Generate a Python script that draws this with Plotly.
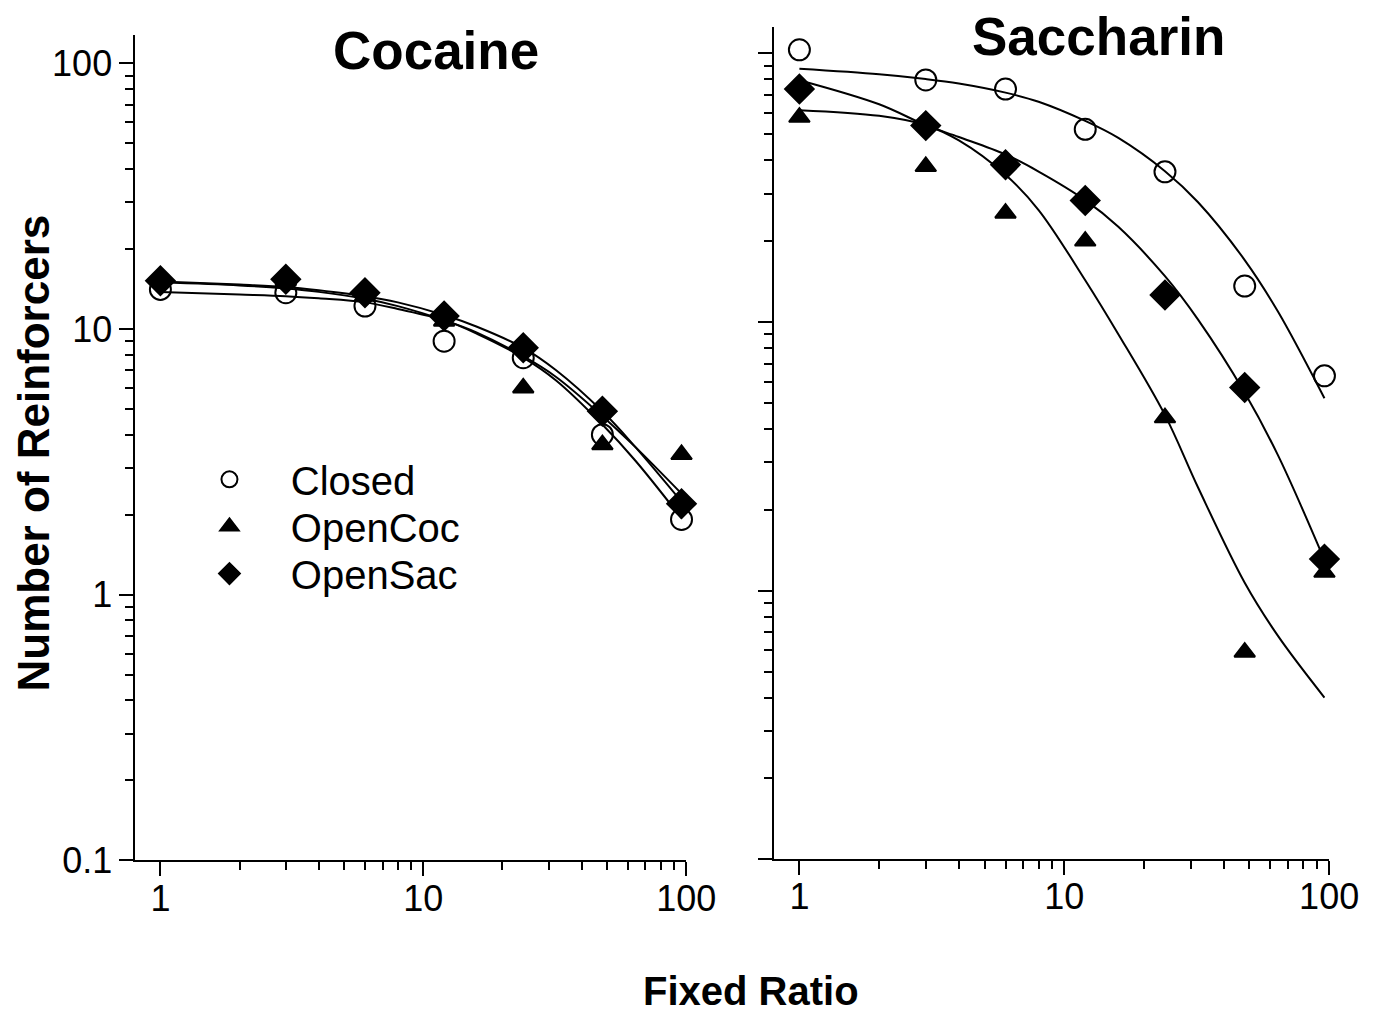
import plotly.graph_objects as go

# ---------------- data ----------------
fr = [1, 3, 6, 12, 24, 48, 96]

coc_closed = [14.1, 13.7, 12.2, 9.0, 7.8, 4.0, 1.92]
coc_opencoc = [15.8, 15.2, 13.3, 10.7, 6.0, 3.67, 3.37]
coc_opensac = [15.2, 15.4, 13.7, 11.2, 8.5, 4.9, 2.2]

sac_closed = [103, 79.6, 73.6, 52.1, 36.2, 13.6, 6.3]
sac_opencoc = [57.8, 37.9, 25.4, 20.0, 4.4, 0.59, 1.17]
sac_opensac = [73.6, 53.8, 38.5, 28.3, 12.6, 5.7, 1.31]

fit_fr = [1, 2, 3, 4, 6, 8, 12, 16, 24, 32, 48, 64, 96]
coc_fit_closed = [13.8, 13.5, 13.3, 13.05, 12.6, 11.9, 10.8, 9.6, 7.8, 6.4, 4.37, 3.2, 1.94]
coc_fit_opencoc = [15.0, 14.6, 14.2, 13.8, 13.0, 12.2, 10.8, 9.7, 7.9, 6.6, 4.7, 3.6, 2.4]
coc_fit_opensac = [15.1, 14.7, 14.4, 14.0, 13.3, 12.6, 11.3, 10.2, 8.5, 7.0, 4.9, 3.6, 2.24]

sac_fit_closed = [87.5, 83.5, 80.2, 77.2, 71.4, 66.0, 56.0, 48.4, 36.4, 27.9, 17.0, 10.96, 5.2]
sac_fit_opencoc = [61.4, 58.5, 54, 47.4, 35.3, 26.1, 14.3, 9.0, 4.5, 2.42, 1.07, 0.68, 0.40]
sac_fit_opensac = [79.4, 64.6, 54, 48.8, 42, 36.3, 28.4, 22.6, 14.8, 10.2, 5.45, 3.2, 1.30]

series_names = ["Closed", "OpenCoc", "OpenSac"]
x_tickvals = [1, 10, 100]
x_ticktext = ["1", "10", "100"]
y_tickvals = [0.1, 1, 10, 100]
y_ticktext = ["0.1", "1", "10", "100"]
x_minor = [2, 3, 4, 5, 6, 7, 8, 9, 20, 30, 40, 50, 60, 70, 80, 90]
y_minor = [0.2, 0.3, 0.4, 0.5, 0.6, 0.7, 0.8, 0.9, 2, 3, 4, 5, 6, 7, 8, 9,
           20, 30, 40, 50, 60, 70, 80, 90]

# ---------------- layout helpers ----------------
S = 0.977          # page -> picture scale observed
OFF = 8            # body margin
W, H = 1392, 1021


def f(v):
    return v / S - OFF


def px(x):
    return f(x) / W


def py(y):
    return 1 - f(y) / H


TICKFONT = "Liberation Sans, Arial, Helvetica, sans-serif"
BOLD = "Liberation Sans, Arial, Helvetica, sans-serif"
symbols = {
    "Closed": dict(symbol="circle-open", size=21, color="black", line=dict(width=2, color="black")),
    "OpenCoc": dict(symbol="triangle-up", size=18, color="black", line=dict(width=2, color="black")),
    "OpenSac": dict(symbol="diamond", size=22, color="black", line=dict(width=2, color="black")),
}
legend_ids = {"Closed": "legend", "OpenCoc": "legend2", "OpenSac": "legend3"}

fig = go.Figure()

panels = [
    ("x", "y", [coc_closed, coc_opencoc, coc_opensac],
     [coc_fit_closed, coc_fit_opencoc, coc_fit_opensac], True),
    ("x2", "y2", [sac_closed, sac_opencoc, sac_opensac],
     [sac_fit_closed, sac_fit_opencoc, sac_fit_opensac], False),
]

for xa, ya, pts, fits, show in panels:
    for fit in fits:
        fig.add_trace(go.Scatter(
            x=fit_fr, y=fit, mode="lines", xaxis=xa, yaxis=ya,
            line=dict(color="black", width=2, shape="spline", smoothing=1.0),
            showlegend=False, hoverinfo="skip", cliponaxis=False))
    for name, vals in zip(series_names, pts):
        fig.add_trace(go.Scatter(
            x=fr, y=vals, mode="markers", xaxis=xa, yaxis=ya,
            name="\u00a0\u00a0\u00a0\u2009" + name,
            marker=symbols[name], showlegend=show,
            legend=legend_ids[name], cliponaxis=False))


def axis_common():
    return dict(
        type="log", showline=True, linecolor="black", linewidth=2,
        ticks="outside", ticklen=14, tickwidth=2, tickcolor="black",
        showgrid=False, zeroline=False,
        tickfont=dict(family=TICKFONT, size=36, color="black"),
        minor=dict(ticks="outside", ticklen=8, tickwidth=2, tickcolor="black",
                   tickmode="array", showgrid=False),
    )


xa1 = axis_common()
xa1.update(domain=[px(135), px(685)], range=[-0.0952, 2.0], anchor="y",
           tickmode="array", tickvals=x_tickvals, ticktext=x_ticktext,
           ticklabelstandoff=-9)
xa1["minor"]["tickvals"] = x_minor
xa2 = axis_common()
xa2.update(domain=[px(773), px(1327)], range=[-0.0947, 2.0], anchor="y2",
           tickmode="array", tickvals=x_tickvals, ticktext=x_ticktext,
           ticklabelstandoff=-9)
xa2["minor"]["tickvals"] = x_minor

ya1 = axis_common()
ya1.update(domain=[py(858), py(35)], range=[-1, 2.106], anchor="x",
           tickmode="array", tickvals=y_tickvals, ticktext=y_ticktext)
ya1["minor"]["tickvals"] = y_minor
ya2 = axis_common()
ya2.update(domain=[py(857), py(27)], range=[-1, 2.097], anchor="x2",
           tickmode="array", tickvals=y_tickvals, showticklabels=False)
ya2["minor"]["tickvals"] = y_minor

legend_style = dict(font=dict(family=TICKFONT, size=40, color="black"),
                    bgcolor="rgba(0,0,0,0)", borderwidth=0,
                    xanchor="left", yanchor="middle", itemsizing="trace")
lx = (f(229) - 20.5) / W
fig.update_layout(
    width=W, height=H, autosize=False,
    margin=dict(l=0, r=0, t=0, b=0),
    paper_bgcolor="white", plot_bgcolor="white",
    xaxis=xa1, yaxis=ya1, xaxis2=xa2, yaxis2=ya2,
    legend=dict(x=lx, y=py(478), **legend_style),
    legend2=dict(x=lx, y=py(525), **legend_style),
    legend3=dict(x=lx, y=py(572), **legend_style),
    annotations=[
        dict(text="<b>Cocaine</b>", x=px(435), y=py(50), xref="paper", yref="paper",
             showarrow=False, font=dict(family=BOLD, size=53, color="black"),
             xanchor="center", yanchor="middle"),
        dict(text="<b>Saccharin</b>", x=px(1097), y=py(36), xref="paper", yref="paper",
             showarrow=False, font=dict(family=BOLD, size=53, color="black"),
             xanchor="center", yanchor="middle"),
        dict(text="<b>Number of Reinforcers</b>", x=px(33), y=py(452),
             xref="paper", yref="paper", showarrow=False, textangle=-90,
             font=dict(family=BOLD, size=44, color="black"),
             xanchor="center", yanchor="middle"),
        dict(text="<b>Fixed Ratio</b>", x=px(750), y=py(988),
             xref="paper", yref="paper", showarrow=False,
             font=dict(family=BOLD, size=40, color="black"),
             xanchor="center", yanchor="middle"),
    ],
)

fig.write_html("out.html")
